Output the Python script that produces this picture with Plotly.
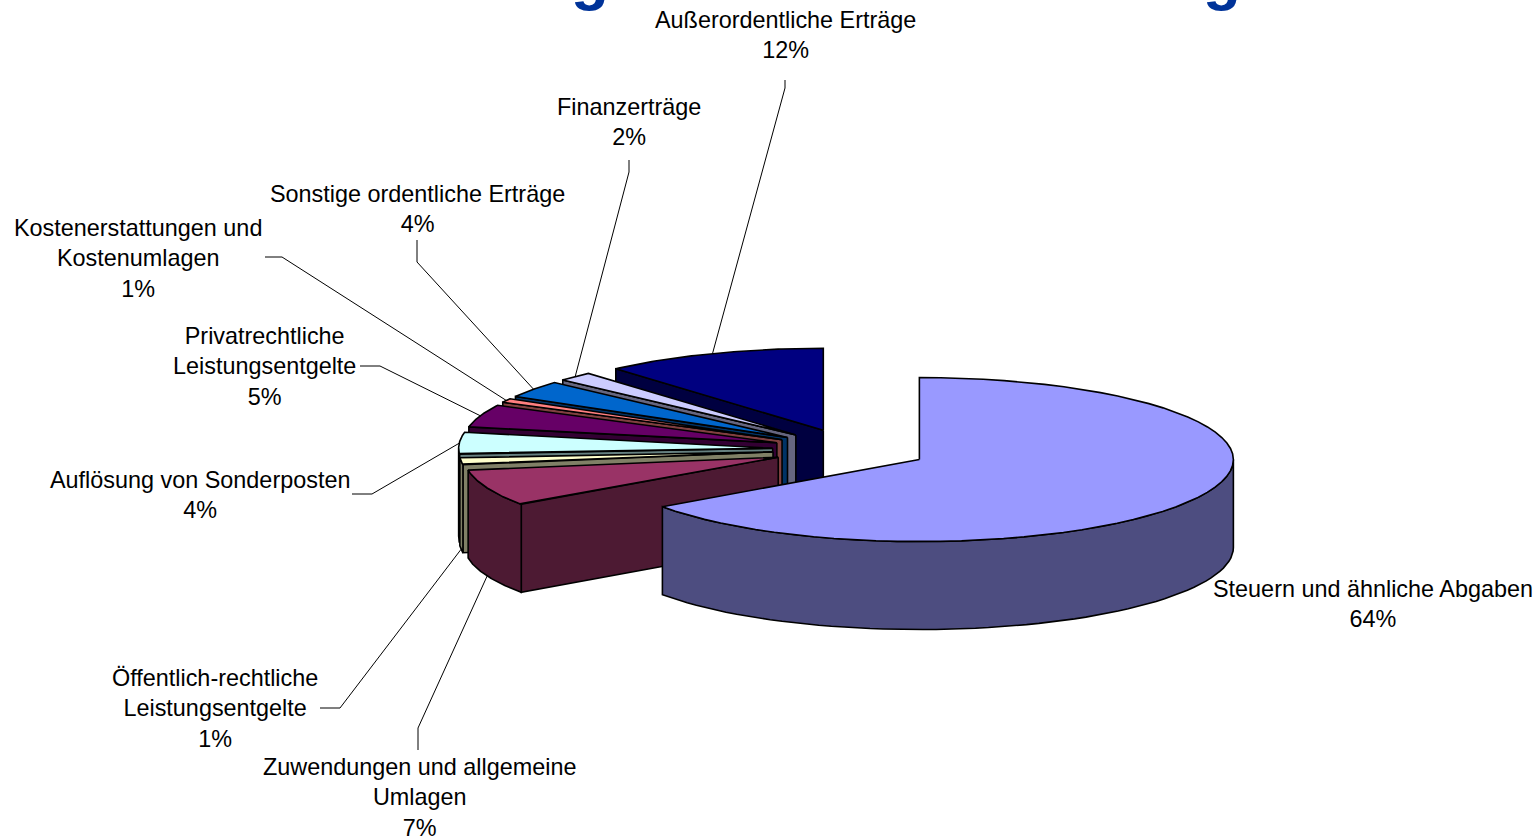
import math
import plotly.graph_objects as go

# Income shares, clockwise from twelve o'clock
categories = [
    "Steuern und ähnliche Abgaben",
    "Zuwendungen und allgemeine<br>Umlagen",
    "Öffentlich-rechtliche<br>Leistungsentgelte",
    "Auflösung von Sonderposten",
    "Privatrechtliche<br>Leistungsentgelte",
    "Kostenerstattungen und<br>Kostenumlagen",
    "Sonstige ordentliche Erträge",
    "Finanzerträge",
    "Außerordentliche Erträge",
]
shares = [64.0, 7.4, 1.4, 4.4, 4.6, 0.8, 3.5, 1.9, 12.0]
top_colors = ["#9999FF", "#993366", "#FFFFCC", "#CCFFFF", "#660066", "#FF8080", "#0066CC", "#CCCCFF", "#000080"]
side_colors = ["#4D4D80", "#4D1A33", "#808066", "#668080", "#330033", "#804040", "#003366", "#666680", "#000040"]

# Label centres and the elbow of each leader line, in canvas pixels
label_pos = [(1373, 604), (419, 797), (215, 708), (200, 495), (264, 366), (138, 258), (417, 209), (629, 122), (785, 35)]
leader_elbows = [
    None,
    [(418, 750), (418, 728)],
    [(320, 708), (340, 708)],
    [(352, 494), (372, 494)],
    [(360, 366), (380, 366)],
    [(265, 257), (282, 257)],
    [(417, 240), (417, 262)],
    [(629, 160), (629, 172)],
    [(785, 80), (785, 88)],
]

# Tilted pie projection
CX, CY = 851, 449.5
RX, RY = 314, 82
DEPTH = 88
EXPLODE = 0.25
FONT = "Liberation Sans"


def view_angle(fraction):
    """Angle in degrees on the ellipse; the tilted view skews the rim slightly."""
    t = 360 * fraction
    return t + 5 * math.sin(math.radians(t / 2))


def rim(t):
    a = math.radians(t)
    return RX * math.sin(a), -RY * math.cos(a)


fig = go.Figure()


def polygon(points, fill):
    xs, ys = zip(*points)
    fig.add_trace(go.Scatter(
        x=list(xs) + [xs[0]], y=list(ys) + [ys[0]], mode="lines", fill="toself",
        fillcolor=fill, line=dict(color="#000000", width=1.6), hoverinfo="skip", showlegend=False,
    ))


def arc(t1, t2, ax, ay, drop=0.0, n=60):
    pts = []
    for i in range(n + 1):
        dx, dy = rim(t1 + (t2 - t1) * i / n)
        pts.append((ax + dx, ay + dy + drop))
    return pts


total = sum(shares)
edges = [0]
for v in shares:
    edges.append(edges[-1] + v / total)

slices = []
for i in range(len(shares)):
    t1, t2 = view_angle(edges[i]), view_angle(edges[i + 1])
    mid = view_angle((edges[i] + edges[i + 1]) / 2)
    ox, oy = rim(mid)
    slices.append((i, t1, t2, mid, CX + EXPLODE * ox, CY + EXPLODE * oy))

# Painter's order: rear slices first, the large front slice last
for i, t1, t2, mid, ax, ay in reversed(slices[1:]):
    rx1, ry1 = rim(t1)
    polygon([(ax, ay), (ax + rx1, ay + ry1), (ax + rx1, ay + ry1 + DEPTH), (ax, ay + DEPTH)], side_colors[i])
    if t1 < 270:
        wall_end = min(t2, 270)
        polygon(arc(t1, wall_end, ax, ay) + arc(wall_end, t1, ax, ay, DEPTH), side_colors[i])
    polygon([(ax, ay)] + arc(t1, t2, ax, ay), top_colors[i])

i, t1, t2, mid, ax, ay = slices[0]
polygon(arc(90, t2, ax, ay) + arc(t2, 90, ax, ay, DEPTH), side_colors[0])
polygon([(ax, ay)] + arc(t1, t2, ax, ay), top_colors[0])

# Leader lines run from each label to the rim of its slice
for i, t1, t2, mid, ax, ay in slices:
    if leader_elbows[i] is None:
        continue
    dx, dy = rim(mid)
    drop = DEPTH if mid < 266 else 0
    pts = leader_elbows[i] + [(ax + dx, ay + dy + drop)]
    fig.add_trace(go.Scatter(
        x=[p[0] for p in pts], y=[p[1] for p in pts], mode="lines",
        line=dict(color="#000000", width=1), hoverinfo="skip", showlegend=False,
    ))

annotations = [
    dict(x=x, y=y, xref="x", yref="y", text=f"{name}<br>{v:.0f}%", showarrow=False, align="center",
         xanchor="center", yanchor="middle", font=dict(family=FONT, size=23.4, color="#000000"))
    for name, v, (x, y) in zip(categories, shares, label_pos)
]
# Descenders of the page heading, which runs off the top edge
for x in (590, 1222):
    annotations.append(dict(x=x, y=13, xref="x", yref="y", text="<b>g</b>", showarrow=False, xanchor="center",
                            yanchor="bottom", font=dict(family=FONT, size=62, color="#003399")))

fig.update_layout(
    width=1539, height=837, margin=dict(l=0, r=0, t=0, b=0),
    paper_bgcolor="#FFFFFF", plot_bgcolor="#FFFFFF", showlegend=False,
    xaxis=dict(range=[0, 1539], visible=False, fixedrange=True),
    yaxis=dict(range=[837, 0], visible=False, fixedrange=True),
    annotations=annotations,
)
fig.write_html("out.html", config={"displayModeBar": False})
